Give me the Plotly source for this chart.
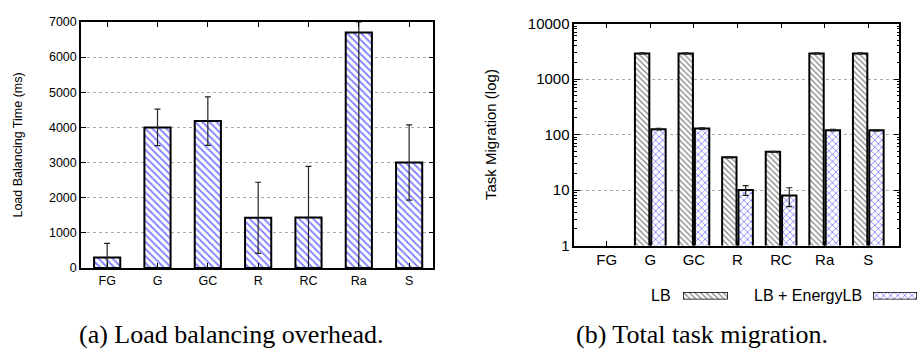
import plotly.graph_objects as go

# ---- data ----
categories = ["FG", "G", "GC", "R", "RC", "Ra", "S"]

lb_time = [300, 4000, 4180, 1430, 1440, 6700, 3000]
lb_time_err_plus = [400, 520, 690, 1010, 1450, 300, 1070]
lb_time_err_minus = [300, 520, 690, 1010, 1440, 6700, 1070]

mig_lb = [None, 2900, 2900, 39, 49, 2900, 2900]
mig_lb_err = [0, 60, 60, 1, 1, 60, 60]
mig_energy = [None, 125, 128, 10, 8, 120, 119]
mig_energy_err = [0, 4, 4, 2, 3, 4, 4]

left_yticks = [0, 1000, 2000, 3000, 4000, 5000, 6000, 7000]
right_yticks = [1, 10, 100, 1000, 10000]
right_minor = [m * d for d in (1, 10, 100, 1000) for m in range(2, 10)]

legend_names = ["LB", "LB + EnergyLB"]
captions = ["(a) Load balancing overhead.", "(b) Total task migration."]

W, H = 917, 358
SANS = "Liberation Sans, Arial, sans-serif"
SERIF = "Liberation Serif, Times New Roman, serif"
BLUE = "#0000ff"

pat_left = dict(shape="\\", fgcolor=BLUE, bgcolor="white", size=5, solidity=0.35)
pat_lb = dict(shape="\\", fgcolor="black", bgcolor="white", size=4, solidity=0.3)
pat_en = dict(shape="x", fgcolor=BLUE, bgcolor="white", size=5, solidity=0.3)

fig = go.Figure()

# left chart
fig.add_trace(go.Bar(
    x=categories, y=lb_time, width=0.52,
    marker=dict(color="white", line=dict(color="black", width=2), pattern=pat_left),
    error_y=dict(type="data", symmetric=False, array=lb_time_err_plus,
                 arrayminus=lb_time_err_minus, color="#222", thickness=1.2, width=3),
    xaxis="x", yaxis="y", showlegend=False))

# right chart
fig.add_trace(go.Bar(
    x=categories, y=mig_lb, name=legend_names[0],
    marker=dict(color="white", line=dict(color="black", width=2), pattern=pat_lb),
    error_y=dict(type="data", array=mig_lb_err, color="#222", thickness=1.2, width=3),
    xaxis="x2", yaxis="y2", showlegend=False))
fig.add_trace(go.Bar(
    x=categories, y=mig_energy, name=legend_names[1],
    marker=dict(color="white", line=dict(color="black", width=2), pattern=pat_en),
    error_y=dict(type="data", array=mig_energy_err, color="#222", thickness=1.2, width=3),
    xaxis="x2", yaxis="y2", showlegend=False))

# legend sample boxes: one tiny subplot each
fig.add_trace(go.Bar(x=[legend_names[0]], y=[1], width=1,
                     marker=dict(color="white", line=dict(color="black", width=1.5), pattern=pat_lb),
                     xaxis="x3", yaxis="y3", showlegend=False, hoverinfo="skip"))
fig.add_trace(go.Bar(x=[legend_names[1]], y=[1], width=1,
                     marker=dict(color="white", line=dict(color="black", width=1.5), pattern=pat_en),
                     xaxis="x4", yaxis="y4", showlegend=False, hoverinfo="skip"))

axis_common = dict(showline=True, linecolor="black", linewidth=1.5, mirror="ticks",
                   ticks="inside", tickcolor="black", zeroline=False)
hidden = dict(visible=False, fixedrange=True, showgrid=False, zeroline=False)

leg_y0, leg_y1 = 297, 305

fig.update_layout(
    width=W, height=H, margin=dict(l=0, r=0, t=0, b=0),
    paper_bgcolor="white", plot_bgcolor="white",
    barmode="group", bargap=0.25, bargroupgap=0.12,
    font=dict(family=SANS, color="black"),
    showlegend=False,
    xaxis=dict(domain=[81 / W, 433.3 / W], range=[-0.52, 6.48], type="category",
               ticklen=5, showgrid=False, tickfont=dict(size=12.5), anchor="y", **axis_common),
    yaxis=dict(domain=[(H - 272) / H, (H - 13.5) / H], range=[0, 7000],
               tickmode="array", tickvals=left_yticks, ticklen=5, showgrid=True, gridcolor="#aaa",
               griddash="dot", gridwidth=1, tickfont=dict(size=12.5), anchor="x",
               title=dict(text="Load Balancing Time (ms)", font=dict(size=12.5), standoff=24),
               **axis_common),
    xaxis2=dict(domain=[574.3 / W, 899.3 / W], range=[-0.743, 6.711], type="category",
                ticklen=5, showgrid=False, tickfont=dict(size=15), anchor="y2", **axis_common),
    yaxis2=dict(domain=[(H - 248.3) / H, (H - 15.3) / H], type="log", range=[0, 4],
                tickmode="array", tickvals=right_yticks, ticktext=[str(v) for v in right_yticks],
                ticklen=6, showgrid=True, gridcolor="#aaa", griddash="dot", gridwidth=1,
                minor=dict(ticks="inside", ticklen=3, tickcolor="black", tickmode="array",
                           tickvals=right_minor, showgrid=False),
                tickfont=dict(size=15), anchor="x2",
                title=dict(text="Task Migration (log)", font=dict(size=15), standoff=28),
                **axis_common),
    xaxis3=dict(domain=[683 / W, 728 / W], range=[-0.5, 0.5], type="category", anchor="y3", **hidden),
    yaxis3=dict(domain=[(H - leg_y1) / H, (H - leg_y0) / H], range=[0, 1], anchor="x3", **hidden),
    xaxis4=dict(domain=[873 / W, 1.0], range=[-0.5, 0.5], type="category", anchor="y4", **hidden),
    yaxis4=dict(domain=[(H - leg_y1) / H, (H - leg_y0) / H], range=[0, 1], anchor="x4", **hidden),
)

leg_mid = (leg_y0 + leg_y1) / 2
fig.add_annotation(x=673 / W, y=1 - leg_mid / H, xref="paper", yref="paper", text=legend_names[0],
                   showarrow=False, xanchor="right", yanchor="middle", font=dict(size=16, family=SANS))
fig.add_annotation(x=864 / W, y=1 - leg_mid / H, xref="paper", yref="paper", text=legend_names[1],
                   showarrow=False, xanchor="right", yanchor="middle", font=dict(size=16, family=SANS))

fig.add_annotation(x=77 / W, y=1 - 342 / H, xref="paper", yref="paper", text=captions[0],
                   showarrow=False, xanchor="left", yanchor="middle", font=dict(size=26, family=SERIF))
fig.add_annotation(x=574 / W, y=1 - 342 / H, xref="paper", yref="paper", text=captions[1],
                   showarrow=False, xanchor="left", yanchor="middle", font=dict(size=26, family=SERIF))

fig.write_html("out.html")
